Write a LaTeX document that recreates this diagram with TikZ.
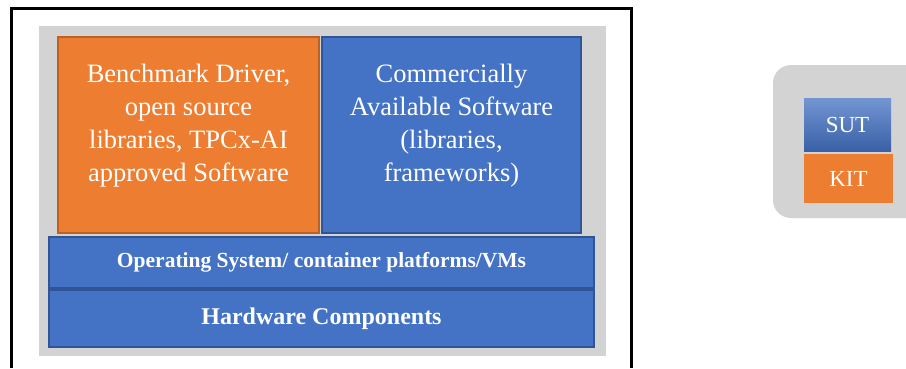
\documentclass[tikz,border=0pt]{standalone}
\usepackage{fontspec}
\setmainfont{Liberation Serif}
\newfontfamily\tnr{Liberation Serif}
\usetikzlibrary{positioning,calc}
\definecolor{kitorange}{RGB}{237,125,49}
\definecolor{kitborder}{RGB}{190,95,35}
\definecolor{sutblue}{RGB}{68,114,196}
\definecolor{sutborder}{RGB}{47,85,151}
\definecolor{panelgray}{RGB}{211,211,211}

\begin{document}
\begin{tikzpicture}[x=1pt, y=-1pt,
    bigbox/.style={draw, line width=1.5pt, inner sep=0pt, minimum height=196pt},
    boxtext/.style={text=white, align=center, font=\tnr\fontsize{26.5}{33}\selectfont},
    layer/.style={draw=sutborder, fill=sutblue, line width=1.5pt, inner sep=0pt, text=white,
        minimum width=545pt},
    keybox/.style={inner sep=0pt, text=white, font=\tnr\fontsize{23}{26}\selectfont}]
    \useasboundingbox (0,0) rectangle (906,368);
    % system frame, open at the bottom
    \draw[line width=3pt] (11.5,368) -- (11.5,8.5) -- (631.5,8.5) -- (631.5,368);
    \node[fill=panelgray, minimum width=567pt, minimum height=330pt, inner sep=0pt] (panel) at (322.5,191) {};

    \node[bigbox, draw=kitborder, fill=kitorange, minimum width=261pt,
        label={[boxtext, yshift=9pt]center:{Benchmark Driver,\\open source\\libraries, TPCx-AI\\approved Software}}]
        (driver) at (188.5,135) {};
    \node[bigbox, draw=sutborder, fill=sutblue, minimum width=259pt,
        label={[boxtext, yshift=9pt]center:{Commercially\\Available Software\\(libraries,\\frameworks)}}]
        (commercial) at (451.5,135) {};
    \node[layer, minimum height=51pt, font=\tnr\bfseries\fontsize{21.5}{24}\selectfont] (os) at (321.5,262.5)
        {Operating System/ container platforms/VMs};
    \node[layer, minimum height=57pt, font=\tnr\bfseries\fontsize{24}{27}\selectfont] (hw) at (321.5,318.5)
        {Hardware Components};

    % legend
    \node[fill=panelgray, rounded corners=18pt, minimum width=170pt, minimum height=153pt] (legend) at (858,141.5) {};
    \node[keybox, top color=sutblue!75!white, bottom color=sutblue!85!black, minimum width=87pt, minimum height=53pt] (sut) at (847.5,124.5) {SUT};
    \node[keybox, fill=kitorange, minimum width=89pt, minimum height=49pt] (kit) at (848.5,178.5) {KIT};
\end{tikzpicture}
\end{document}
